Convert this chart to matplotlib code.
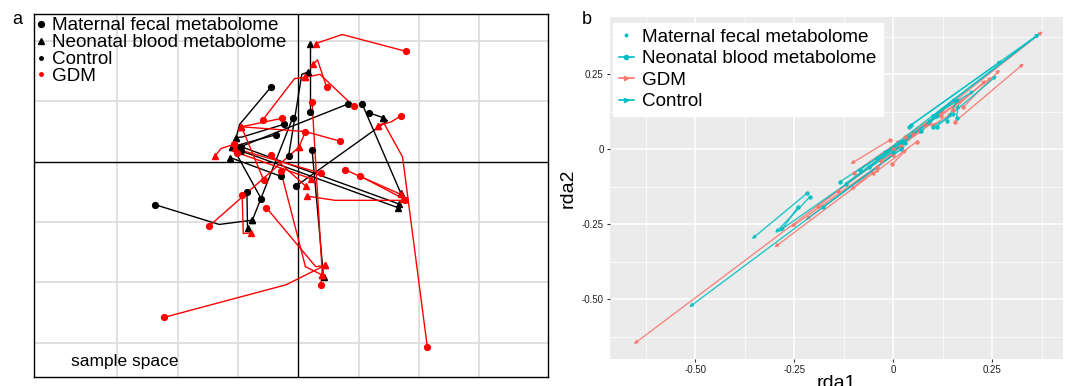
import matplotlib
matplotlib.use("Agg")
import matplotlib.pyplot as plt
from matplotlib.lines import Line2D

plt.rcParams['font.family'] = ['Liberation Sans', 'DejaVu Sans']

# ---------------- Panel a data (procrustes sample space) ----------------
# Control (black): circle = maternal fecal, triangle = neonatal blood
ctrl_cx = [-0.045, -0.238, -0.009, -0.061, -0.024, -0.036, 0.083, 0.106, 0.118,
           -0.003, 0.020, 0.023, -0.095, -0.085, -0.029, -0.016, -0.095]
ctrl_cy = [0.124, -0.071, 0.073, -0.062, 0.062, 0.045, 0.096, 0.096, 0.081,
           -0.040, 0.082, 0.020, 0.018, -0.051, -0.024, 0.009, 0.025]
ctrl_tx = [-0.103, -0.077, -0.076, -0.109, -0.103, -0.109, -0.103, 0.170, 0.141,
           0.141, 0.020, 0.042, 0.165, -0.084, -0.113, 0.017, 0.167]
ctrl_ty = [0.040, -0.097, -0.097, 0.025, 0.040, 0.025, 0.022, -0.052, 0.073,
           0.073, 0.196, -0.191, -0.076, -0.110, 0.007, 0.149, -0.070]
ctrl_bends = [[(-0.097, 0.062)], [(-0.131, -0.104)], [], [], [(-0.093, 0.041)], [], [], [], [],
              [(0.148, 0.068)], [], [], [], [], [], [(0.006, 0.145)], []]

# GDM (red)
gdm_cx = [0.179, 0.047, -0.059, 0.092, 0.023, 0.170, -0.027, 0.070, 0.012, -0.106,
          -0.045, 0.038, 0.077, 0.103, -0.029, -0.053, -0.222, 0.214, -0.148, -0.093,
          -0.057, 0.177, 0.037, -0.101]
gdm_cy = [0.183, 0.124, 0.069, 0.092, 0.099, 0.076, 0.072, 0.034, 0.050, 0.029,
          0.011, -0.019, -0.013, -0.024, -0.015, -0.076, -0.258, -0.307, -0.107, -0.055,
          -0.031, -0.064, -0.204, 0.015]
gdm_tx = [0.029, 0.025, 0.012, 0.012, 0.040, 0.133, -0.094, -0.094, 0.001, -0.138,
          0.013, -0.105, 0.170, 0.174, 0.040, 0.044, 0.044, 0.133, 0.001, -0.079,
          -0.094, 0.015, 0.040, 0.021]
gdm_ty = [0.196, 0.162, 0.140, 0.140, -0.188, 0.060, 0.058, 0.058, 0.024, 0.009,
          -0.041, 0.022, -0.054, -0.061, -0.188, -0.172, -0.172, 0.060, 0.024, -0.118,
          0.058, -0.057, -0.188, -0.028]
gdm_bends = [[(0.073, 0.211)], [(0.032, 0.169)], [(-0.006, 0.138)], [(0.036, 0.145)], [],
             [(0.154, 0.066)], [], [(0.012, 0.050)], [], [(-0.128, 0.022)],
             [], [], [], [], [(0.012, -0.174)], [(0.029, -0.174)], [(-0.020, -0.204)],
             [(0.173, 0.008), (0.142, 0.064)], [], [(-0.091, -0.119)],
             [], [(0.061, -0.064)], [], []]

grid_x_a = [-0.3, -0.2, -0.1, 0.1, 0.2, 0.3]
grid_y_a = [-0.3, -0.2, -0.1, 0.1, 0.2]

# ---------------- Panel b data (rda arrows) ----------------
ctrl_x0 = [0.040, -0.020, 0.100, 0.045, 0.110, 0.100, 0.160, 0.135, 0.020, -0.218, -0.210,
           -0.241, -0.177, -0.134, -0.120, -0.085, -0.040, 0.000, 0.070, -0.060, 0.030, 0.100]
ctrl_y0 = [0.075, -0.010, 0.110, 0.080, 0.075, 0.110, 0.105, 0.095, 0.000, -0.148, -0.159,
           -0.194, -0.194, -0.109, -0.115, -0.070, -0.030, -0.010, 0.060, -0.060, 0.020, 0.075]
ctrl_x1 = [0.370, 0.370, 0.370, 0.275, 0.262, 0.205, 0.165, 0.165, -0.515, -0.357, -0.298,
           -0.285, 0.030, 0.040, 0.100, 0.060, 0.120, 0.160, 0.115, 0.030, -0.290, 0.160]
ctrl_y1 = [0.385, 0.385, 0.385, 0.295, 0.245, 0.195, 0.150, 0.170, -0.527, -0.300, -0.280,
           -0.276, 0.010, 0.040, 0.100, 0.060, 0.115, 0.170, 0.115, 0.030, -0.275, 0.120]

gdm_x0 = [0.000, 0.155, 0.050, -0.007, -0.002, -0.050, -0.040, 0.000, 0.020, 0.060, 0.177,
          0.120, 0.080, 0.100, 0.030, -0.100, -0.190, -0.140, 0.150, -0.030, 0.065]
gdm_y0 = [0.000, 0.090, 0.050, 0.031, -0.050, -0.080, -0.060, -0.020, 0.010, 0.025, 0.140,
          0.110, 0.080, 0.080, 0.040, -0.080, -0.190, -0.140, 0.130, -0.040, 0.060]
gdm_x1 = [-0.655, 0.330, 0.378, -0.108, 0.035, -0.300, -0.221, -0.258, -0.108, -0.048, 0.270,
          0.250, 0.175, 0.150, 0.130, 0.020, -0.050, 0.060, 0.235, 0.100, 0.000]
gdm_y1 = [-0.650, 0.285, 0.392, -0.050, 0.000, -0.328, -0.236, -0.261, -0.138, -0.080, 0.265,
          0.240, 0.165, 0.120, 0.130, 0.030, -0.050, 0.060, 0.230, 0.090, -0.005]

b_ticks = [-0.50, -0.25, 0.0, 0.25]
b_ticklabels = ["-0.50", "-0.25", "0", "0.25"]

RED_A = '#FF0000'
TEAL = '#00BFC4'
SALMON = '#F8766D'

fig = plt.figure(figsize=(10.65, 3.86), dpi=100)

# ================= Panel a =================
axa = fig.add_axes([0.0319, 0.0233, 0.4826, 0.9404])
axa.set_xlim(-0.438, 0.414)
axa.set_ylim(-0.357, 0.245)
for gx in grid_x_a:
    axa.axvline(gx, color='#DDDDDD', lw=1.3, zorder=0)
for gy in grid_y_a:
    axa.axhline(gy, color='#DDDDDD', lw=1.3, zorder=0)
axa.axhline(0, color='black', lw=1.0, zorder=1)
axa.axvline(0, color='black', lw=1.0, zorder=1)


def draw_pairs(ax, cx, cy, tx, ty, bends, color):
    for i in range(len(cx)):
        xs = [cx[i]] + [b[0] for b in bends[i]] + [tx[i]]
        ys = [cy[i]] + [b[1] for b in bends[i]] + [ty[i]]
        ax.plot(xs, ys, color=color, lw=1.0, zorder=2)
    ax.plot(cx, cy, 'o', color=color, ms=4.2, zorder=3, linestyle='none')
    ax.plot(tx, ty, '^', color=color, ms=5.0, zorder=3, linestyle='none')


draw_pairs(axa, ctrl_cx, ctrl_cy, ctrl_tx, ctrl_ty, ctrl_bends, 'black')
draw_pairs(axa, gdm_cx, gdm_cy, gdm_tx, gdm_ty, gdm_bends, RED_A)

axa.set_xticks([])
axa.set_yticks([])
for s in axa.spines.values():
    s.set_color('black')
    s.set_linewidth(1.0)

handles_a = [
    Line2D([0], [0], marker='o', color='black', ls='none', ms=4.2),
    Line2D([0], [0], marker='^', color='black', ls='none', ms=5.0),
    Line2D([0], [0], marker='o', color='black', ls='none', ms=2.5),
    Line2D([0], [0], marker='o', color=RED_A, ls='none', ms=2.5),
]
labels_a = ["Maternal fecal metabolome", "Neonatal blood metabolome", "Control", "GDM"]
axa.legend(handles_a, labels_a, loc='upper left', bbox_to_anchor=(-0.008, 1.012),
           frameon=False, fontsize=13.6, handlelength=0.4, handletextpad=0.35,
           labelspacing=-0.02, borderaxespad=0)
axa.text(0.073, 0.022, "sample space", transform=axa.transAxes, fontsize=12.5,
         ha='left', va='bottom')

fig.text(17 / 1065, 1 - 19 / 386, "a", fontsize=13, ha='center', va='center')
fig.text(587 / 1065, 1 - 19 / 386, "b", fontsize=13, ha='center', va='center')

# ================= Panel b =================
axb = fig.add_axes([0.5728, 0.0699, 0.4254, 0.886])
axb.set_facecolor('#EBEBEB')
axb.set_xlim(-0.715, 0.429)
axb.set_ylim(-0.70, 0.44)
axb.set_xticks(b_ticks)
axb.set_xticklabels(b_ticklabels)
axb.set_yticks(b_ticks)
axb.set_yticklabels(b_ticklabels)
axb.set_xticks([-0.625, -0.375, -0.125, 0.125, 0.375], minor=True)
axb.set_yticks([-0.625, -0.375, -0.125, 0.125, 0.375], minor=True)
axb.grid(which='major', color='white', lw=1.1)
axb.grid(which='minor', color='white', lw=0.5)
axb.set_axisbelow(True)
for s in axb.spines.values():
    s.set_visible(False)
axb.tick_params(which='major', length=2.5, color='#333333', labelsize=7, labelcolor='#222222', pad=2)
axb.tick_params(which='minor', length=0)
axb.set_xlabel("rda1", fontsize=14, labelpad=0)
axb.set_ylabel("rda2", fontsize=14, labelpad=4)


def draw_arrows(ax, x0, y0, x1, y1, color):
    for i in range(len(x0)):
        ax.annotate('', xy=(x1[i], y1[i]), xytext=(x0[i], y0[i]),
                    arrowprops=dict(arrowstyle='-|>', color=color, lw=1.0,
                                    mutation_scale=5, shrinkA=0, shrinkB=0, alpha=0.85),
                    zorder=2)
    ax.plot(x0, y0, 'o', color=color, ms=2.2, ls='none', zorder=3, alpha=0.9)


draw_arrows(axb, gdm_x0, gdm_y0, gdm_x1, gdm_y1, SALMON)
draw_arrows(axb, ctrl_x0, ctrl_y0, ctrl_x1, ctrl_y1, TEAL)

handles_b = [
    Line2D([0], [0], marker='o', color=TEAL, ls='none', ms=1.8),
    Line2D([0], [0], marker='o', color=TEAL, lw=1.2, ms=3),
    Line2D([0], [0], marker='>', color=SALMON, lw=1.2, ms=3),
    Line2D([0], [0], marker='>', color=TEAL, lw=1.2, ms=3),
]
labels_b = ["Maternal fecal metabolome", "Neonatal blood metabolome", "GDM", "Control"]
leg = axb.legend(handles_b, labels_b, loc='upper left', bbox_to_anchor=(0.007, 0.982),
                 fontsize=13.6, handlelength=0.8, handletextpad=0.45, labelspacing=0.22,
                 borderaxespad=0, frameon=True, fancybox=False, framealpha=1,
                 borderpad=0.3)
leg.get_frame().set_edgecolor('white')
leg.get_frame().set_facecolor('white')

fig.savefig("out.png", dpi=100)
